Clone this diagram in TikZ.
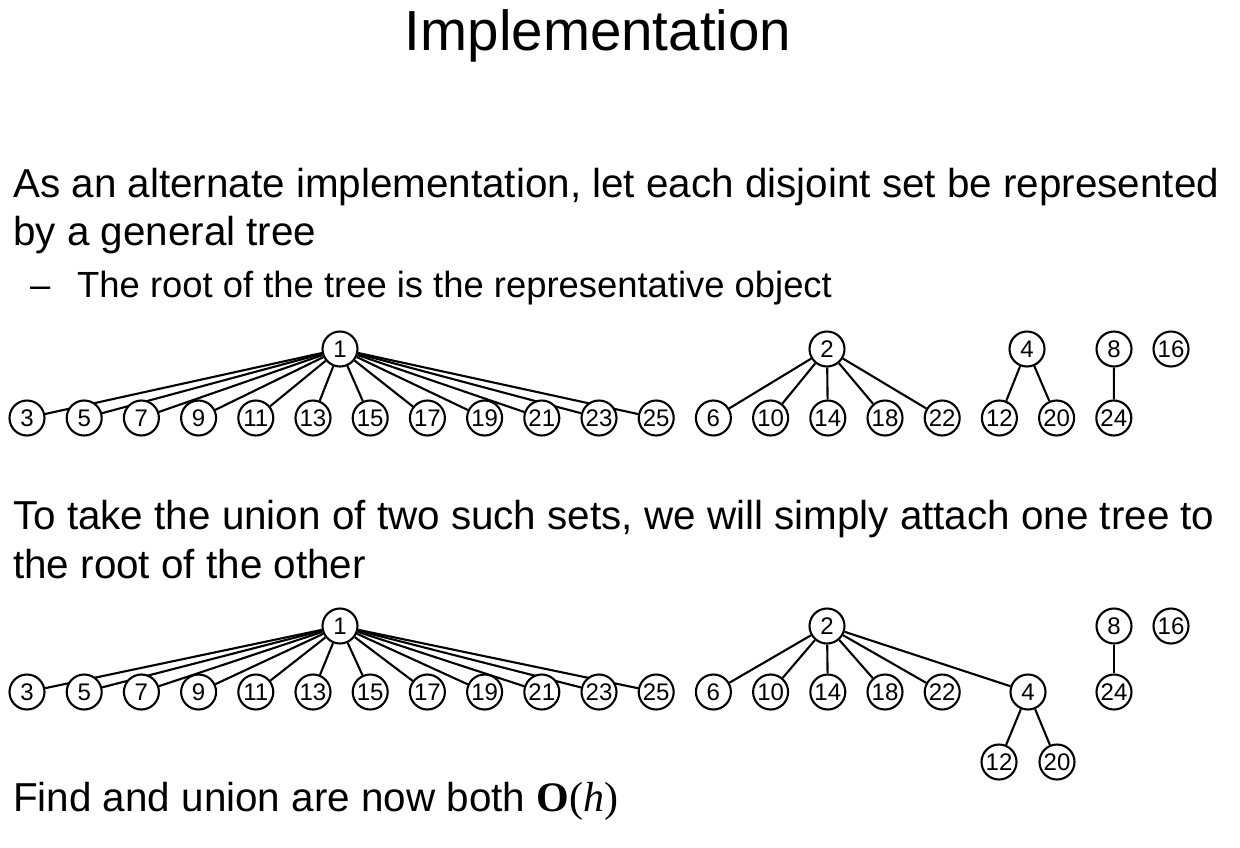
\documentclass[tikz,border=0pt]{standalone}
\usepackage{fontspec}
\setmainfont{Liberation Sans}
\newfontfamily\serifface{Liberation Serif}
\usetikzlibrary{backgrounds}
\tikzset{
  vtx/.style={circle, draw, line width=2.1pt, minimum size=35pt, inner sep=0pt, fill=white, font=\fontsize{24}{26}\selectfont},
  edg/.style={line width=2.1pt},
  bodytext/.style={anchor=base west, inner sep=0pt, font=\fontsize{40.4}{44}\selectfont},
  subtext/.style={anchor=base west, inner sep=0pt, font=\fontsize{36.4}{40}\selectfont},
}
\begin{document}
\begin{tikzpicture}[x=1pt, y=-1pt]
\useasboundingbox (0,0) rectangle (1240,847);
% title
\node[anchor=base, inner sep=0pt, font=\fontsize{56.5}{60}\selectfont] (title) at (598,50) {Implementation};
\node[bodytext] (t1) at (13,197) {As an alternate implementation, let each disjoint set be represented};
\node[bodytext] (t2) at (13,245) {by a general tree};
\node[subtext] (dash) at (30,297) {--};
\node[subtext] (t3) at (77,297) {The root of the tree is the representative object};
\node[bodytext] (t4) at (13,529) {To take the union of two such sets, we will simply attach one tree to};
\node[bodytext] (t5) at (13,578) {the root of the other};
\node[bodytext] (t6) at (13,811) {Find and union are now both {\serifface\fontsize{42}{44}\selectfont\textbf{O}(\textit{h})}};

% ---------- first forest ----------
\node[vtx] (a1) at (340,349) {1};
\node[vtx] (a2) at (827,349) {2};
\node[vtx] (a4) at (1027,349) {4};
\node[vtx] (a8) at (1114,349) {8};
\node[vtx] (a16) at (1171,349) {16};
\foreach \n [count=\k from 0] in {3,5,7,9,11,13,15,17,19,21,23,25,6,10,14,18,22,12,20,24} {
  \node[vtx] (a\n) at ({27+57.2*\k},418) {\n};
}
\begin{pgfonlayer}{background}
  \foreach \c in {3,5,7,9,11,13,15,17,19,21,23,25} \draw[edg] (a1) -- (a\c);
  \foreach \c in {6,10,14,18,22} \draw[edg] (a2) -- (a\c);
  \foreach \c in {12,20} \draw[edg] (a4) -- (a\c);
  \draw[edg] (a8) -- (a24);
\end{pgfonlayer}

% ---------- second forest ----------
\node[vtx] (b1) at (340,626) {1};
\node[vtx] (b2) at (827,626) {2};
\node[vtx] (b8) at (1114,626) {8};
\node[vtx] (b16) at (1171,626) {16};
\foreach \n [count=\k from 0] in {3,5,7,9,11,13,15,17,19,21,23,25,6,10,14,18,22} {
  \node[vtx] (b\n) at ({27+57.2*\k},692) {\n};
}
\node[vtx] (b4) at (1028,692) {4};
\node[vtx] (b24) at (1114,692) {24};
\node[vtx] (b12) at (999,762) {12};
\node[vtx] (b20) at (1057,762) {20};
\begin{pgfonlayer}{background}
  \foreach \c in {3,5,7,9,11,13,15,17,19,21,23,25} \draw[edg] (b1) -- (b\c);
  \foreach \c in {6,10,14,18,22,4} \draw[edg] (b2) -- (b\c);
  \foreach \c in {12,20} \draw[edg] (b4) -- (b\c);
  \draw[edg] (b8) -- (b24);
\end{pgfonlayer}
\end{tikzpicture}
\end{document}
